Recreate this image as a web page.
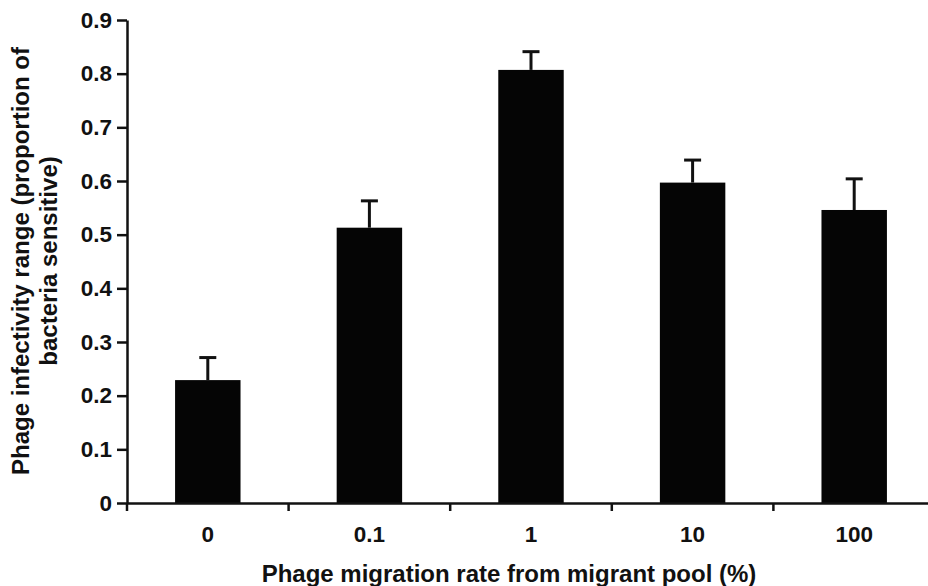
<!DOCTYPE html>
<html>
<head>
<meta charset="utf-8">
<script src="https://cdn.jsdelivr.net/npm/d3@7"></script>
<style>
  body { margin: 0; background: #fff; }
  text { font-family: "Liberation Sans", Arial, sans-serif; font-weight: bold; fill: #111; }
</style>
</head>
<body>
<script>
// Chart data
const categories = ["0", "0.1", "1", "10", "100"];
const means = [0.229, 0.513, 0.807, 0.597, 0.546];
const errTops = [0.271, 0.563, 0.841, 0.639, 0.604];
const yTicks = [0, 0.1, 0.2, 0.3, 0.4, 0.5, 0.6, 0.7, 0.8, 0.9];

const width = 928;
const height = 586;
const margin = { top: 20, right: -7, bottom: 83, left: 127 };

const svg = d3
  .select("body")
  .append("svg")
  .attr("width", width)
  .attr("height", height);

// Scales
const xScale = d3
  .scaleBand()
  .domain(categories)
  .range([margin.left, width - margin.right])
  .padding(0);
const yScale = d3
  .scaleLinear()
  .domain([0, 0.9])
  .range([height - margin.bottom, margin.top]);

const barW = xScale.bandwidth() * 0.405;

// Bars
svg
  .append("g")
  .selectAll("rect")
  .data(categories)
  .join("rect")
  .attr("x", (d) => xScale(d) + xScale.bandwidth() / 2 - barW / 2)
  .attr("y", (d, i) => yScale(means[i]))
  .attr("width", barW)
  .attr("height", (d, i) => yScale(0) - yScale(means[i]))
  .attr("fill", "#050505");

// Error bars (upper only)
const err = svg.append("g").attr("stroke", "#111").attr("stroke-width", 3);
categories.forEach((c, i) => {
  const cx = xScale(c) + xScale.bandwidth() / 2;
  err
    .append("line")
    .attr("x1", cx)
    .attr("x2", cx)
    .attr("y1", yScale(means[i]))
    .attr("y2", yScale(errTops[i]));
  err
    .append("line")
    .attr("x1", cx - 8.5)
    .attr("x2", cx + 8.5)
    .attr("y1", yScale(errTops[i]))
    .attr("y2", yScale(errTops[i]));
});

// Y axis
const yAxis = d3
  .axisLeft(yScale)
  .tickValues(yTicks)
  .tickFormat((d) => (d === 0 ? "0" : d3.format(".1f")(d)))
  .tickSize(10)
  .tickSizeOuter(0)
  .tickPadding(5);
svg
  .append("g")
  .attr("transform", `translate(${margin.left},0)`)
  .call(yAxis)
  .call((g) => g.selectAll("path, line").attr("stroke", "#111").attr("stroke-width", 2.5))
  .call((g) => g.selectAll("text").attr("font-size", 22.5).attr("font-family", null));

// X axis: ticks sit between categories
const xAxis = d3
  .axisBottom(xScale)
  .tickSize(0)
  .tickSizeOuter(0)
  .tickPadding(23);
svg
  .append("g")
  .attr("transform", `translate(0,${yScale(0)})`)
  .call(xAxis)
  .call((g) => g.select(".domain").attr("stroke", "#111").attr("stroke-width", 2.5))
  .call((g) => g.selectAll("text").attr("font-size", 22.5).attr("font-family", null));

// separators between categories
svg
  .append("g")
  .selectAll("line")
  .data(categories)
  .join("line")
  .attr("x1", (d) => xScale(d))
  .attr("x2", (d) => xScale(d))
  .attr("y1", yScale(0))
  .attr("y2", yScale(0) + 8)
  .attr("stroke", "#111")
  .attr("stroke-width", 2.5);

// Axis titles
svg
  .append("text")
  .attr("x", 509)
  .attr("y", 582)
  .attr("text-anchor", "middle")
  .attr("font-size", 24)
  .text("Phage migration rate from migrant pool (%)");

const yTitle = svg
  .append("text")
  .attr("transform", `translate(29,261) rotate(-90)`)
  .attr("text-anchor", "middle")
  .attr("font-size", 24);
yTitle.append("tspan").attr("x", 0).attr("dy", 0).text("Phage infectivity range (proportion of");
yTitle.append("tspan").attr("x", 0).attr("dy", 28).text("bacteria sensitive)");
</script>
</body>
</html>
